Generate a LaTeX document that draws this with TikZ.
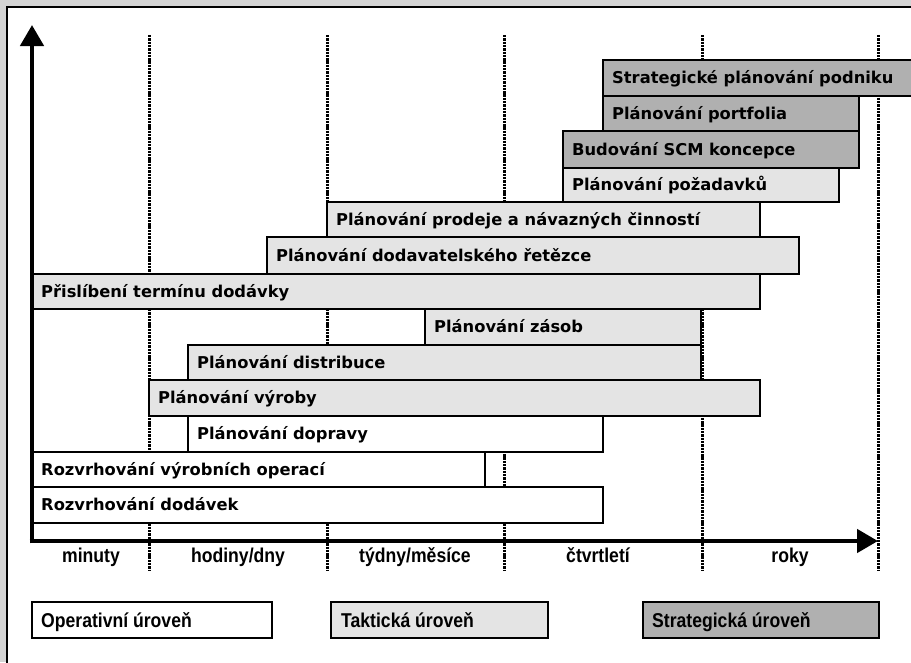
\documentclass[tikz,border=0pt]{standalone}
\usepackage{fontspec}
\setmainfont{DejaVu Sans}
\newfontfamily\labelfont[FakeStretch=0.88]{Liberation Sans}
\usetikzlibrary{arrows.meta}

\definecolor{pagegrey}{RGB}{212,212,212}
\definecolor{tacticgrey}{RGB}{228,228,228}
\definecolor{strategicgrey}{RGB}{176,176,176}

\tikzset{
  opfill/.style={fill=white},
  tacfill/.style={fill=tacticgrey},
  strfill/.style={fill=strategicgrey},
  barframe/.style={draw=black, line width=2.6pt, line join=miter},
  bartext/.style={anchor=base west, inner sep=0pt, text=black,
    font=\bfseries\fontsize{16.3}{19}\selectfont},
  scaletext/.style={anchor=base, inner sep=0pt, text=black,
    font=\labelfont\bfseries\fontsize{20}{22}\selectfont},
  legendtext/.style={anchor=base west, inner sep=0pt, text=black,
    font=\labelfont\bfseries\fontsize{20}{22}\selectfont},
  guide/.style={draw=black, line width=3pt, dash pattern=on 2.4pt off 0.9pt},
  axisline/.style={draw=black, line width=4.6pt,
    -{Triangle[width=23pt,length=21pt]}},
}

% one time-horizon bar: name, fill style, x1, y1, x2, y2, label
\newcommand\planbar[7]{%
  \draw[barframe,#2] (#3,#4) rectangle (#5,#6);
  \node[bartext] (#1) at ({#3+9},{(#4+#6)/2+5.8}) {#7};}

\begin{document}
\begin{tikzpicture}[x=1pt,y=-1pt]
  \useasboundingbox (0,0) rectangle (911,662);
  \clip (0,0) rectangle (911,662);
  \fill[pagegrey] (0,0) rectangle (911,662);
  \draw[line width=1.5pt, fill=white] (7,7) rectangle (930,680);

  % period boundaries
  \foreach \gx/\gn in {149/g1,327/g2,504/g3,702/g4,878/g5} {
    \coordinate (\gn top) at (\gx,35);
    \coordinate (\gn bot) at (\gx,570);
    \draw[guide] (\gn top) -- (\gn bot);
  }

  % planning horizons
  \planbar{sp}{strfill}{603}{60}{935}{96}{Strategické plánování podniku}
  \planbar{pp}{strfill}{603}{96}{859}{131}{Plánování portfolia}
  \planbar{scm}{strfill}{563}{131}{859}{168}{Budování SCM koncepce}
  \planbar{pz}{tacfill}{563}{168}{839}{202}{Plánování požadavků}
  \planbar{pr}{tacfill}{327}{202}{760}{237}{Plánování prodeje a návazných činností}
  \planbar{dr}{tacfill}{267}{237}{799}{274}{Plánování dodavatelského řetězce}
  \planbar{pt}{tacfill}{32}{274}{760}{309}{Přislíbení termínu dodávky}
  \planbar{zs}{tacfill}{425}{309}{701}{345}{Plánování zásob}
  \planbar{ds}{tacfill}{188}{345}{701}{380}{Plánování distribuce}
  \planbar{vy}{tacfill}{149}{380}{760}{416}{Plánování výroby}
  \planbar{dp}{opfill}{188}{416}{603}{452}{Plánování dopravy}
  \planbar{ro}{opfill}{32}{452}{485}{487}{Rozvrhování výrobních operací}
  \planbar{rd}{opfill}{32}{487}{603}{523}{Rozvrhování dodávek}

  % axes
  \coordinate (origin) at (32,541);
  \coordinate (ytip) at (32,25);
  \coordinate (xtip) at (878,541);
  \draw[axisline] (32,543.3) -- (ytip);
  \draw[axisline] (29.7,541) -- (xtip);

  % time scale
  \node[scaletext] (t1) at (91,562) {minuty};
  \node[scaletext] (t2) at (238,562) {hodiny/dny};
  \node[scaletext] (t3) at (415,562) {týdny/měsíce};
  \node[scaletext] (t4) at (598,562) {čtvrtletí};
  \node[scaletext] (t5) at (790,562) {roky};

  % legend
  \draw[barframe,opfill] (32,602) rectangle (272,638);
  \node[legendtext] (lo) at (41,627) {Operativní úroveň};
  \draw[barframe,tacfill] (331,602) rectangle (548,638);
  \node[legendtext] (lt) at (341,627) {Taktická úroveň};
  \draw[barframe,strfill] (643,602) rectangle (879,638);
  \node[legendtext] (ls) at (652,627) {Strategická úroveň};
\end{tikzpicture}
\end{document}
